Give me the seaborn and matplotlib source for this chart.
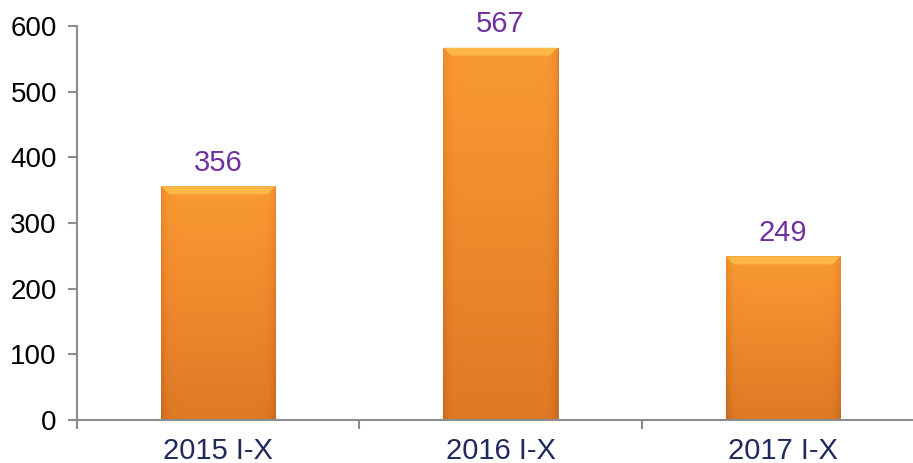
import numpy as np
import pandas as pd
import seaborn as sns
import matplotlib.pyplot as plt
from matplotlib.colors import LinearSegmentedColormap
from matplotlib.patches import Polygon

# Data
periods = ['2015 I-X', '2016 I-X', '2017 I-X']
values = [356, 567, 249]

df = pd.DataFrame({'Period': periods, 'Value': values})

sns.set_style('white')
plt.rcParams['font.family'] = ['Liberation Sans', 'DejaVu Sans']

fig = plt.figure(figsize=(9.13, 4.63), dpi=100)
ax = fig.add_axes([77 / 913, 1 - 420 / 463, 1 - 77 / 913, (420 - 26) / 463])

sns.barplot(data=df, x='Period', y='Value', color='#F39530', width=0.405, ax=ax,
            linewidth=0)

# orange gradient fill: lighter on top, darker at bottom, slightly darker edges
cmap = LinearSegmentedColormap.from_list('orng', ['#C86A1E', '#DF7A25', '#EE8A2C', '#F99A32'])
for p in ax.patches:
    x0, y0 = p.get_x(), p.get_y()
    w, h = p.get_width(), p.get_height()
    vert = np.linspace(0, 1, 200)[:, None]
    horiz = np.linspace(-1, 1, 100)[None, :]
    grad = 0.33 + vert * 0.67 - 0.35 * np.abs(horiz) ** 12
    grad = np.clip(grad, 0, 1)
    im = ax.imshow(grad, extent=[x0, x0 + w, y0, y0 + h], origin='lower',
                   cmap=cmap, vmin=0, vmax=1, aspect='auto', zorder=2)
    im.set_clip_path(p)
    # bevelled top edge
    bh, bw = 12, 0.028
    bevel = Polygon([[x0, y0 + h], [x0 + w, y0 + h], [x0 + w - bw, y0 + h - bh],
                     [x0 + bw, y0 + h - bh]], closed=True, facecolor='#FFBE4C',
                    edgecolor='none', alpha=0.85, zorder=3)
    ax.add_patch(bevel)
    p.set_edgecolor('#C06A24')
    p.set_linewidth(0.6)
    p.set_zorder(1)

# value labels
for i, v in enumerate(values):
    ax.text(i, v + 14, str(v), ha='center', va='bottom', fontsize=21,
            color='#7030A0', clip_on=False)

ax.set_yticks(range(0, 601, 100))
ax.set_xticks([-0.5, 0.5, 1.5], minor=True)
ax.set_xlim(-0.5, 2.46)
ax.set_ylim(0, 600)
ax.set_xlabel('')
ax.set_ylabel('')

for s in ['top', 'right']:
    ax.spines[s].set_visible(False)
for s in ['left', 'bottom']:
    ax.spines[s].set_color('#8C8C8C')
    ax.spines[s].set_linewidth(1.5)

ax.tick_params(axis='y', length=6.5, width=1.5, color='#8C8C8C', pad=8,
               labelsize=20, labelcolor='#000000', left=True)
ax.tick_params(axis='x', which='minor', length=6.5, width=1.5, color='#8C8C8C', bottom=True)
ax.tick_params(axis='x', which='major', length=0, pad=12, labelsize=21,
               labelcolor='#1F2A5C')

fig.savefig('out.png', dpi=100)
